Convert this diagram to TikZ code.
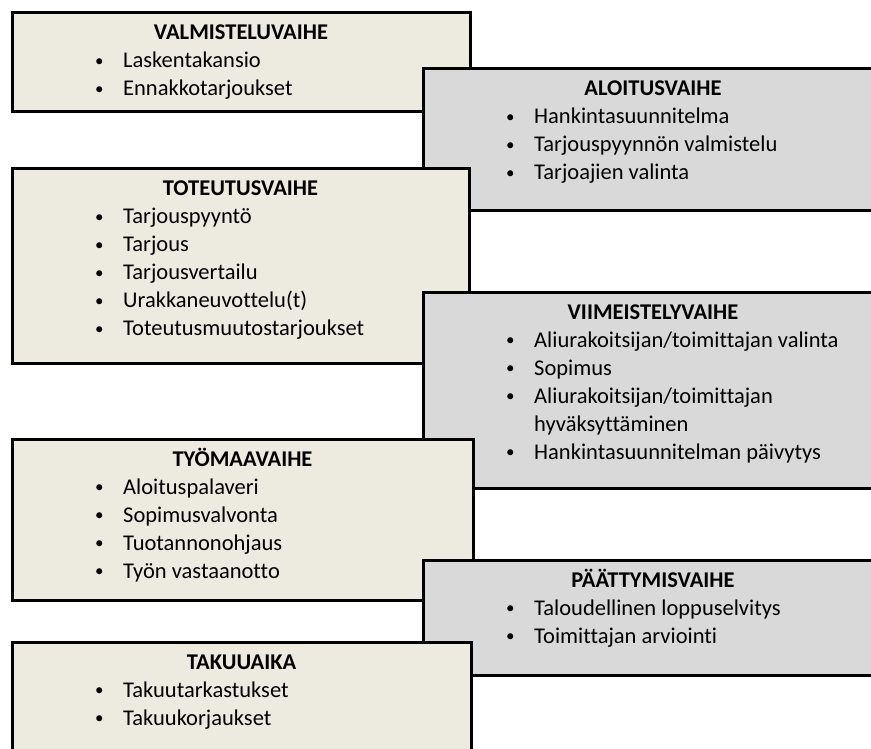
\documentclass[tikz,border=0pt]{standalone}
\usepackage{fontspec}
\setmainfont{Carlito}[Ligatures=NoCommon]
\definecolor{beigefill}{HTML}{EDEAE0}
\definecolor{grayfill}{HTML}{D9D9D9}
\tikzset{
  phase/.style={draw=black, line width=3pt, rectangle, anchor=north west, inner sep=0pt, outer sep=0pt},
  beigebox/.style={phase, fill=beigefill},
  graybox/.style={phase, fill=grayfill},
  phasetitle/.style={font=\fontsize{22.5}{28}\selectfont\bfseries, anchor=base, inner sep=0pt},
  phaseitems/.style={font=\fontsize{22.5}{28}\selectfont, anchor=base west, inner sep=0pt, align=left},
}
\newcommand{\pbul}{\raisebox{1.6pt}{\fontsize{17}{28}\selectfont •}}
\newcommand{\phaselist}[1]{\begin{tabular}[t]{@{}p{28pt}@{}l@{}}#1\end{tabular}}
\begin{document}
\begin{tikzpicture}[x=1pt,y=1pt]
\useasboundingbox (0,0) rectangle (871,-749);
\clip (0,0) rectangle (871,-749);
\fill[white] (0,0) rectangle (871,-749);

% 1
\node[beigebox, minimum width=458pt, minimum height=99pt] (b1) at (12,-13) {};
\node[phasetitle] (t1) at ([yshift=-27pt]b1.north) {VALMISTELUVAIHE};
\node[phaseitems] (l1) at ([xshift=83pt,yshift=-55pt]b1.north west) {\phaselist{\pbul & Laskentakansio\\ \pbul & Ennakkotarjoukset}};

% 2
\node[graybox, minimum width=460pt, minimum height=142pt] (b2) at (423,-69) {};
\node[phasetitle] (t2) at ([yshift=-27pt]b2.north) {ALOITUSVAIHE};
\node[phaseitems] (l2) at ([xshift=83pt,yshift=-55pt]b2.north west) {\phaselist{\pbul & Hankintasuunnitelma\\ \pbul & Tarjouspyynnön valmistelu\\ \pbul & Tarjoajien valinta}};

% 3
\node[beigebox, minimum width=457pt, minimum height=194pt] (b3) at (12,-169) {};
\node[phasetitle] (t3) at ([yshift=-27pt]b3.north) {TOTEUTUSVAIHE};
\node[phaseitems] (l3) at ([xshift=83pt,yshift=-55pt]b3.north west) {\phaselist{\pbul & Tarjouspyyntö\\ \pbul & Tarjous\\ \pbul & Tarjousvertailu\\ \pbul & Urakkaneuvottelu(t)\\ \pbul & Toteutusmuutostarjoukset}};

% 4
\node[graybox, minimum width=460pt, minimum height=196pt] (b4) at (423,-292) {};
\node[phasetitle] (t4) at ([yshift=-27pt]b4.north) {VIIMEISTELYVAIHE};
\node[phaseitems] (l4) at ([xshift=83pt,yshift=-55pt]b4.north west) {\phaselist{\pbul & Aliurakoitsijan/toimittajan valinta\\ \pbul & Sopimus\\ \pbul & Aliurakoitsijan/toimittajan\\ & hyväksyttäminen\\ \pbul & Hankintasuunnitelman päivytys}};

% 5
\node[beigebox, minimum width=461pt, minimum height=161pt] (b5) at (12,-439) {};
\node[phasetitle] (t5) at ([yshift=-27pt]b5.north) {TYÖMAAVAIHE};
\node[phaseitems] (l5) at ([xshift=83pt,yshift=-55pt]b5.north west) {\phaselist{\pbul & Aloituspalaveri\\ \pbul & Sopimusvalvonta\\ \pbul & Tuotannonohjaus\\ \pbul & Työn vastaanotto}};

% 6
\node[graybox, minimum width=460pt, minimum height=115pt] (b6) at (423,-560) {};
\node[phasetitle] (t6) at ([yshift=-27pt]b6.north) {PÄÄTTYMISVAIHE};
\node[phaseitems] (l6) at ([xshift=83pt,yshift=-55pt]b6.north west) {\phaselist{\pbul & Taloudellinen loppuselvitys\\ \pbul & Toimittajan arviointi}};

% 7
\node[beigebox, minimum width=459pt, minimum height=120pt] (b7) at (12,-642) {};
\node[phasetitle] (t7) at ([yshift=-27pt]b7.north) {TAKUUAIKA};
\node[phaseitems] (l7) at ([xshift=83pt,yshift=-55pt]b7.north west) {\phaselist{\pbul & Takuutarkastukset\\ \pbul & Takuukorjaukset}};
\end{tikzpicture}
\end{document}
